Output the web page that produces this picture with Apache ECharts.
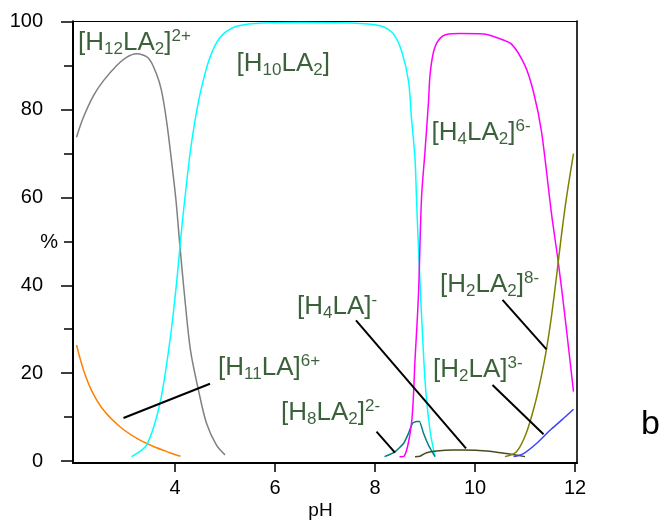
<!DOCTYPE html>
<html>
<head>
<meta charset="utf-8">
<script src="https://cdn.jsdelivr.net/npm/echarts@6/dist/echarts.min.js"></script>
<style>html,body{margin:0;padding:0;background:#fff;}#c{width:662px;height:523px;}</style>
</head>
<body>
<div id="c"></div>
<script>
// ---- data (pH, % values) ----
var grayPH  = [2.03,2.17,2.37,2.57,2.83,3.03,3.23,3.47,3.63,3.73,3.83,3.93,4.02,4.1,4.2,4.31,4.47,4.63,4.83,5.0];
var grayVal = [73.7,78.3,83.2,86.6,90,91.9,92.7,91.7,88.1,84.3,77.5,68.4,59.3,48.7,36.6,25.2,16.1,8.6,3.6,1.4];

var cyanPH  = [3.13,3.43,3.7,3.9,4.03,4.13,4.2,4.3,4.4,4.53,4.7,4.9,5.17,5.6,6.5,7.5,8.1,8.36,8.53,8.67,8.73,8.8,8.83,8.88,9.0,9.1,9.2];
var cyanVal = [1.0,3.6,13.2,27.5,40.4,52.5,60,69.9,77.5,85,91.9,96.4,98.7,99.6,99.8,99.7,99.1,97.3,93.4,86.5,78,68.9,59.8,45.7,18.4,7,1.0];

var magPH  = [8.49,8.58,8.73,8.8,8.87,8.93,9.0,9.07,9.1,9.17,9.27,9.43,9.7,10.17,10.43,10.73,11.0,11.17,11.33,11.53,11.67,11.8,11.97];
var magVal = [1.0,1.1,8.6,23,38,59.8,70.5,81.8,87.8,93.1,95.8,97.1,97.3,97.2,96.4,94.9,90,84,75,56.3,44.9,32.8,15.8];

var olivePH  = [10.6,10.83,11.03,11.2,11.33,11.43,11.53,11.63,11.73,11.83,11.97];
var oliveVal = [1.0,2.1,6.5,13,19.5,25.5,33,42,51.5,60,70];

var bluePH  = [10.77,10.97,11.23,11.5,11.73,11.97];
var blueVal = [1.0,1.7,4.0,7.0,9.3,11.8];

var tealPH  = [8.19,8.4,8.57,8.67,8.75,8.83,8.89,8.97,9.07,9.2];
var tealVal = [1.0,2.1,4.0,6.3,8.6,9.0,9.0,6.3,3.6,1.0];

var dkPH  = [8.8,8.9,9.03,9.23,9.57,9.77,10.23,10.63,11.0];
var dkVal = [1.0,1.1,1.9,2.3,2.5,2.5,2.3,1.7,1.0];

var orangePH  = [2.03,2.17,2.33,2.57,2.9,3.23,3.57,3.9,4.11];
var orangeVal = [26.4,20.7,16.1,11.6,7.8,5.2,3.3,1.9,1.1];

// leader lines [pH1, val1, pH2, val2]
var leaderH11LA  = [2.97, 9.8, 4.7, 17.6];
var leaderH8LA2  = [8.03, 6.7, 8.4, 1.9];
var leaderH4LA   = [7.62, 32.0, 9.82, 2.9];
var leaderH2LA2  = [10.55, 36.7, 11.43, 25.4];
var leaderH2LA   = [10.35, 17.3, 11.37, 6.1];

// species labels: [pH, value, rich text]
var labelPos = [
  [2.06, 95.2, '{m|[H}{s|12}{m|LA}{s|2}{m|]}{p|2+}'],
  [5.23, 90.4, '{m|[H}{s|10}{m|LA}{s|2}{m|]}'],
  [9.13, 74.8, '{m|[H}{s|4}{m|LA}{s|2}{m|]}{p|6-}'],
  [6.44, 35.2, '{m|[H}{s|4}{m|LA]}{p|-}'],
  [6.12, 10.9, '{m|[H}{s|8}{m|LA}{s|2}{m|]}{p|2-}'],
  [4.86, 21.2, '{m|[H}{s|11}{m|LA]}{p|6+}'],
  [9.30, 40.1, '{m|[H}{s|2}{m|LA}{s|2}{m|]}{p|8-}'],
  [9.16, 20.7, '{m|[H}{s|2}{m|LA]}{p|3-}']
];

var xTicks = [4,6,8,10,12];
var yTicks = [0,20,40,60,80,100];
var yMinor = [10,30,50,70,90];

function pairs(xs, ys){ return xs.map(function(x,i){ return [x, ys[i]]; }); }
function seg(a){ return [[a[0],a[1]],[a[2],a[3]]]; }

var FONT = "'Liberation Sans', Arial, sans-serif";
var GREEN = '#0a3a0a';

function curve(name, xs, ys, color, smooth){
  return { name: name, type: 'line', data: pairs(xs, ys), showSymbol: false, symbol: 'none',
    smooth: smooth, lineStyle: { color: color, width: 1.5 }, z: 3 };
}
function leader(a){
  return { type: 'line', data: seg(a), showSymbol: false, symbol: 'none',
    lineStyle: { color: '#000', width: 2 }, z: 4 };
}

var YMAX = 100.1;
var chart = echarts.init(document.getElementById('c'), null, { renderer: 'canvas' });
chart.setOption({
  animation: false,
  backgroundColor: '#fff',
  grid: { left: 73, right: 85, top: 21.3, bottom: 60, containLabel: false, outerBoundsMode: 'none' },
  xAxis: [
    { type: 'value', position: 'bottom', min: 1.96, max: 12.04,
      axisLine: { show: true, onZero: false, lineStyle: { color: '#000', width: 2 } },
      axisTick: { show: true, inside: false, length: 9, customValues: xTicks, lineStyle: { color: '#000', width: 1.5 } },
      axisLabel: { show: true, customValues: xTicks, fontSize: 20, color: '#000', margin: 15, fontFamily: FONT },
      splitLine: { show: false },
      name: 'pH', nameLocation: 'middle', nameGap: 38, nameMoveOverlap: false,
      nameTextStyle: { fontSize: 19, color: '#000', fontFamily: FONT, padding: [0, 9, 0, 0] } },
    { type: 'value', position: 'top', min: 1.96, max: 12.04,
      axisLine: { show: true, onZero: false, lineStyle: { color: '#000', width: 1 } },
      axisTick: { show: false }, axisLabel: { show: false }, splitLine: { show: false } }
  ],
  yAxis: [
    { type: 'value', position: 'left', min: -0.45, max: YMAX,
      axisLine: { show: true, onZero: false, lineStyle: { color: '#000', width: 2 } },
      axisTick: { show: true, inside: false, length: 12, customValues: yTicks, lineStyle: { color: '#000', width: 1.5 } },
      axisLabel: { show: true, customValues: yTicks, fontSize: 20, color: '#000', margin: 30, fontFamily: FONT },
      splitLine: { show: false },
      name: '%', nameLocation: 'middle', nameRotate: 0, nameGap: 15, nameMoveOverlap: false,
      nameTextStyle: { fontSize: 20, color: '#000', fontFamily: FONT } },
    { type: 'value', position: 'left', min: -0.45, max: YMAX,
      axisLine: { show: false },
      axisTick: { show: true, inside: false, length: 9, customValues: yMinor, lineStyle: { color: '#000', width: 1.5 } },
      axisLabel: { show: false }, splitLine: { show: false } },
    { type: 'value', position: 'right', min: -0.45, max: YMAX,
      axisLine: { show: true, onZero: false, lineStyle: { color: '#333', width: 2 } },
      axisTick: { show: false }, axisLabel: { show: false }, splitLine: { show: false } }
  ],
  graphic: [
    { type: 'text', left: 641, top: 408, style: { text: 'b', fontSize: 34, fill: '#000', fontFamily: FONT } }
  ],
  series: [
    curve('H12LA2', grayPH, grayVal, '#808080', 0.3),
    curve('H11LA', orangePH, orangeVal, '#ff8000', 0.3),
    curve('H10LA2', cyanPH, cyanVal, '#00ffff', 0.3),
    curve('H8LA2', tealPH, tealVal, '#008080', 0.15),
    curve('H4LA', dkPH, dkVal, '#4a4a1c', 0.3),
    curve('H4LA2', magPH, magVal, '#ff00ff', 0.3),
    curve('H2LA2', olivePH, oliveVal, '#808000', 0.3),
    curve('H2LA', bluePH, blueVal, '#4040ff', 0.3),
    leader(leaderH11LA), leader(leaderH8LA2), leader(leaderH4LA), leader(leaderH2LA2), leader(leaderH2LA),
    { type: 'scatter', symbolSize: 0.1, itemStyle: { color: 'rgba(0,0,0,0)' }, z: 5,
      data: labelPos.map(function(d){ return { value: [d[0], d[1]], txt: d[2] }; }),
      label: { show: true, position: 'right', distance: 0,
        formatter: function(p){ return p.data.txt; },
        rich: {
          m: { fontSize: 26, lineHeight: 30, color: GREEN, fontFamily: FONT },
          s: { fontSize: 17, lineHeight: 20, verticalAlign: 'bottom', color: GREEN, fontFamily: FONT },
          p: { fontSize: 17, lineHeight: 15, verticalAlign: 'top', color: GREEN, fontFamily: FONT }
        } },
      emphasis: { disabled: true }, silent: true }
  ]
});
</script>
</body>
</html>
